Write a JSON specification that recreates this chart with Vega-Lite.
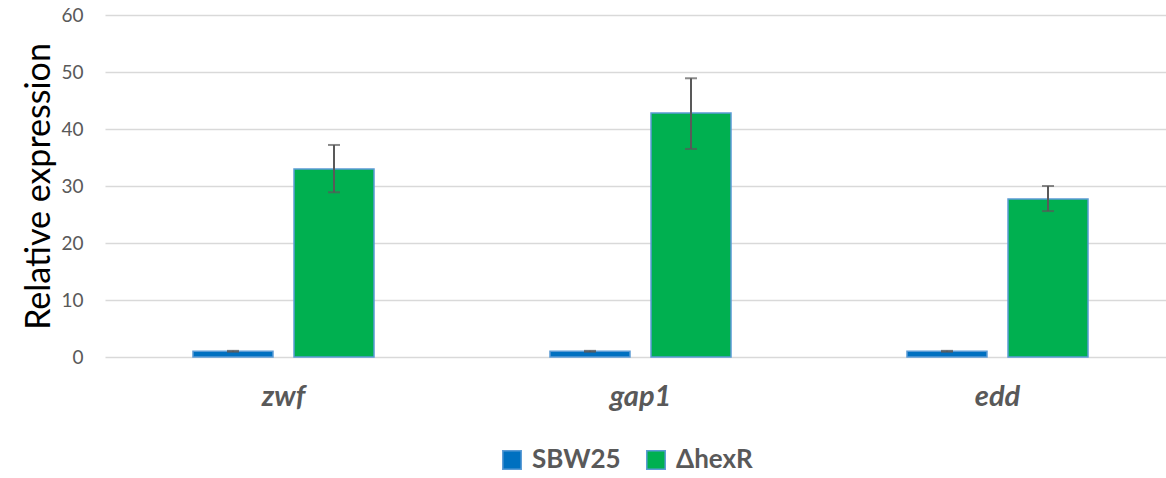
{
  "$schema": "https://vega.github.io/schema/vega-lite/v6.json",
  "autosize": "none",
  "width": 1071,
  "height": 342,
  "padding": {"left": 105, "top": 15, "right": 0, "bottom": 121},
  "background": "white",
  "config": {
    "view": {"stroke": null},
    "font": "Lato"
  },
  "data": {
    "values": [
      {"gene": "zwf", "strain": "SBW25", "value": 1.0, "lo": 0.92, "hi": 1.08},
      {"gene": "zwf", "strain": "ΔhexR", "value": 33.0, "lo": 28.9, "hi": 37.2},
      {"gene": "gap1", "strain": "SBW25", "value": 1.0, "lo": 0.92, "hi": 1.08},
      {"gene": "gap1", "strain": "ΔhexR", "value": 42.8, "lo": 36.5, "hi": 48.9},
      {"gene": "edd", "strain": "SBW25", "value": 1.0, "lo": 0.92, "hi": 1.08},
      {"gene": "edd", "strain": "ΔhexR", "value": 27.7, "lo": 25.6, "hi": 30.0}
    ]
  },
  "encoding": {
    "x": {
      "field": "gene", "type": "nominal", "sort": ["zwf", "gap1", "edd"],
      "scale": {"paddingInner": 0, "paddingOuter": 0},
      "axis": {
        "title": null, "labelAngle": 0, "domain": false, "ticks": false,
        "labelFont": "Lato", "labelFontSize": 29, "labelFontWeight": "bold",
        "labelFontStyle": "italic", "labelColor": "#595959", "labelPadding": 25
      }
    },
    "xOffset": {
      "field": "strain", "type": "nominal", "sort": ["SBW25", "ΔhexR"],
      "scale": {"paddingInner": 0.208, "paddingOuter": 0.871}
    }
  },
  "layer": [
    {
      "mark": {"type": "bar", "stroke": "#5B9BD5", "strokeWidth": 1.5},
      "encoding": {
        "y": {
          "field": "value", "type": "quantitative",
          "scale": {"domain": [0, 60]},
          "axis": {
            "title": "Relative expression", "titleFontSize": 34, "titleFontWeight": "normal",
            "titleColor": "#000000", "titleFont": "Lato", "titlePadding": 4,
            "values": [0, 10, 20, 30, 40, 50, 60],
            "domain": false, "ticks": false, "labelPadding": 22,
            "labelFontSize": 19, "labelColor": "#595959", "labelFont": "Lato",
            "gridColor": "#d9d9d9", "gridWidth": 1.3
          }
        },
        "color": {
          "field": "strain", "type": "nominal", "sort": ["SBW25", "ΔhexR"],
          "scale": {"domain": ["SBW25", "ΔhexR"], "range": ["#0070C0", "#00B050"]},
          "legend": {
            "title": null, "orient": "none", "legendX": 394, "legendY": 432,
            "direction": "horizontal", "columns": 2, "columnPadding": 22,
            "symbolType": "square", "symbolSize": 340,
            "symbolStrokeColor": "#5B9BD5", "symbolStrokeWidth": 1.5,
            "labelFontSize": 26, "labelFontWeight": "bold", "labelColor": "#595959",
            "labelFont": "Lato", "labelOffset": 7
          }
        }
      }
    },
    {
      "mark": {"type": "rule", "color": "#595959", "strokeWidth": 2},
      "encoding": {
        "y": {"field": "lo", "type": "quantitative"},
        "y2": {"field": "hi"}
      }
    },
    {
      "mark": {"type": "tick", "color": "#595959", "thickness": 2, "size": 12, "orient": "horizontal"},
      "encoding": {"y": {"field": "hi", "type": "quantitative"}}
    },
    {
      "mark": {"type": "tick", "color": "#595959", "thickness": 2, "size": 12, "orient": "horizontal"},
      "encoding": {"y": {"field": "lo", "type": "quantitative"}}
    }
  ]
}
